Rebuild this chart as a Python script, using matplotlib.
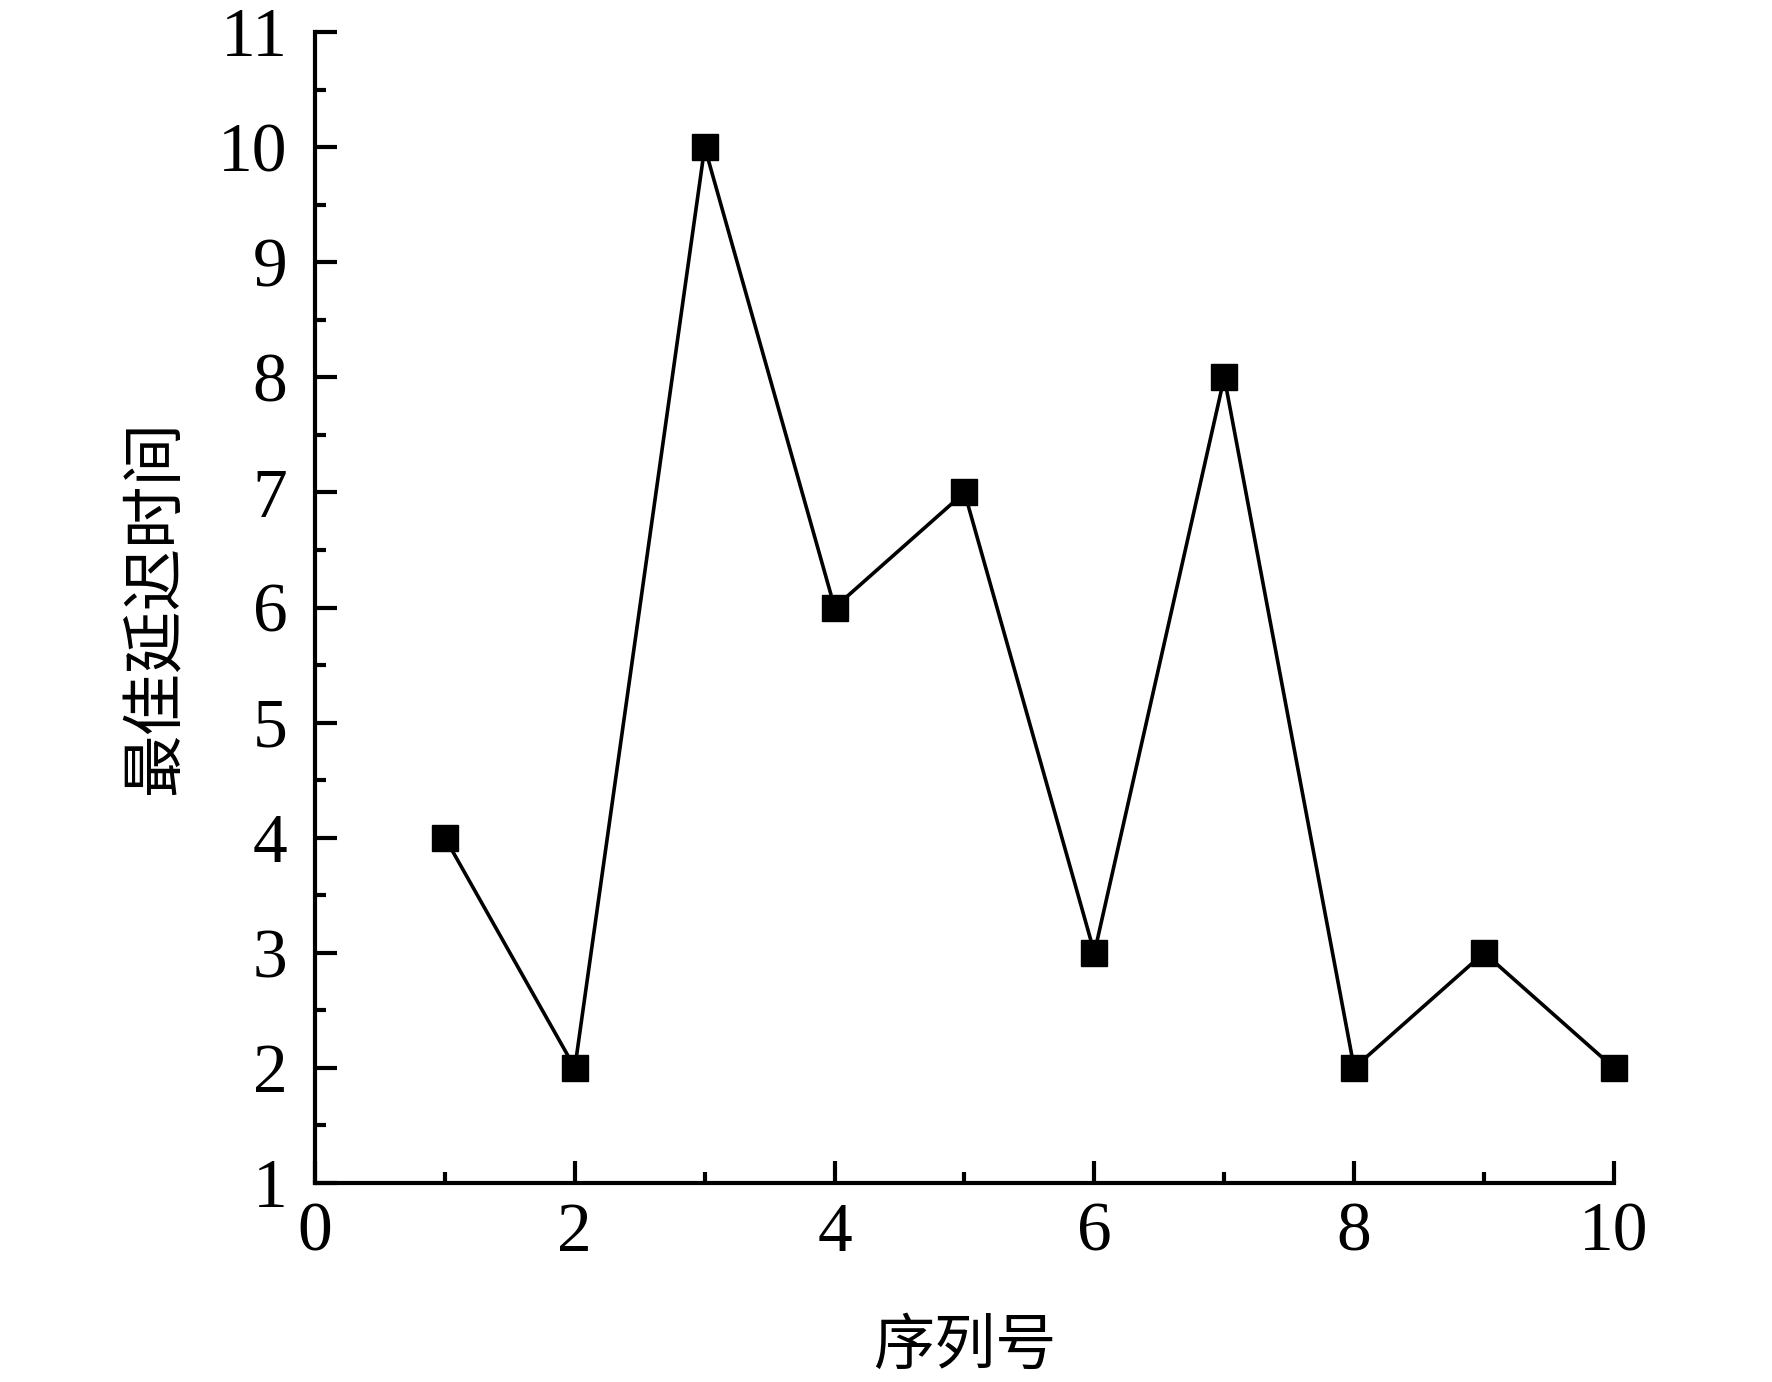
import matplotlib
matplotlib.use("Agg")
import matplotlib.pyplot as plt
from matplotlib.ticker import MultipleLocator

# Data
seq_no = [1, 2, 3, 4, 5, 6, 7, 8, 9, 10]
best_delay = [4, 2, 10, 6, 7, 3, 8, 2, 3, 2]

x_label = "序列号"
y_label = "最佳延迟时间"

plt.rcParams['font.family'] = ['Liberation Serif', 'Noto Sans CJK SC']

fig = plt.figure(figsize=(17.72, 13.82), dpi=100)
ax = fig.add_axes([0.1778, 0.1440, 0.7330, 0.8328])

ax.plot(seq_no, best_delay, color='black', linewidth=2.6, clip_on=False,
        marker='s', markersize=19, markerfacecolor='black', markeredgecolor='black')

ax.set_xlim(0, 10)
ax.set_ylim(1, 11)
ax.xaxis.set_major_locator(MultipleLocator(2))
ax.xaxis.set_minor_locator(MultipleLocator(1))
ax.yaxis.set_major_locator(MultipleLocator(1))
ax.yaxis.set_minor_locator(MultipleLocator(0.5))

for side in ['top', 'right']:
    ax.spines[side].set_visible(False)
for side in ['left', 'bottom']:
    ax.spines[side].set_linewidth(3.0)

ax.tick_params(which='major', direction='in', length=16, width=3.0, labelsize=50, pad=14)
ax.tick_params(which='minor', direction='in', length=8, width=3.0)
ax.tick_params(axis='y', pad=20)
for lbl in ax.get_xticklabels() + ax.get_yticklabels():
    lbl.set_family('Liberation Serif')

ax.set_xlabel(x_label, family=['Noto Sans CJK SC'], fontsize=44)
ax.xaxis.set_label_coords(0.5, -0.142)
ax.xaxis.label.set_va('center')

ax.set_ylabel(y_label, family=['Noto Sans CJK SC'], fontsize=45)
ax.yaxis.set_label_coords(-0.123, 0.5)
ax.yaxis.label.set_va('center')

fig.savefig("out.png", dpi=100)
